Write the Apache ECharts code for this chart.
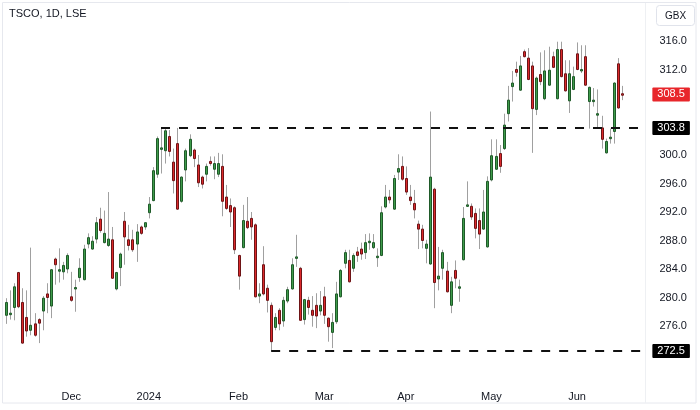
<!DOCTYPE html>
<html><head><meta charset="utf-8">
<script src="https://cdn.jsdelivr.net/npm/echarts@6/dist/echarts.min.js"></script>
<style>html,body{margin:0;padding:0;background:#fff}#c{width:700px;height:410px}</style>
</head><body><div id="c"></div>
<script>
// ---- data (TSCO daily, GBX) ----
const startDate = '2023-11-09';
const holidays = ['2023-12-25','2023-12-26','2024-01-01','2024-03-29','2024-04-01','2024-05-06','2024-05-27'];
const extraSlots = 5; // empty right margin
const open = [277.5,277.6,278.6,283.5,279.3,277.2,275.4,276.3,276.9,278.1,280.5,278.8,285.4,283.7,283.6,284.0,280.1,281.2,282.8,282.5,
287.5,286.8,288.2,291.0,287.7,287.3,288.1,281.2,284.2,290.7,288.1,288.1,287.5,289.9,289.9,291.9,293.6,297.3,300.8,300.6,
302.6,299.0,301.6,293.5,297.9,299.9,300.7,298.6,296.9,297.3,299.1,298.0,297.3,298.4,294.1,292.9,292.6,285.9,287.0,290.7,
291.1,290.2,280.2,284.6,281.3,278.9,275.8,278.2,276.7,279.5,281.2,285.5,284.1,276.9,279.6,278.2,278.9,278.1,280.1,277.1,
275.1,276.6,280.1,284.8,285.2,284.1,286.4,286.8,286.3,287.7,287.0,285.6,285.9,292.7,294.1,292.4,297.6,298.4,296.7,294.1,
293.2,290.3,289.6,286.9,284.7,295.2,282.6,284.1,283.7,278.9,283.8,281.3,285.3,292.8,292.8,291.8,290.8,289.6,287.1,296.5,
298.0,300.2,300.9,305.8,309.6,312.0,309.1,314.5,313.6,312.5,306.4,311.3,307.9,309.8,313.8,307.9,314.8,311.4,307.6,309.2,
314.2,311.8,313.8,307.5,307.5,305.6,303.8,300.3,302.3,303.3,312.8,308.6];
const high = [279.9,281.0,282.0,283.6,281.3,281.0,287.0,277.8,277.1,280.2,282.0,284.0,285.6,286.9,285.0,286.2,283.6,282.5,285.5,287.4,
289.0,288.6,291.3,292.6,292.2,294.8,289.9,283.6,286.3,292.0,290.2,289.5,290.3,290.1,290.5,294.1,298.3,302.6,303.8,303.8,
303.5,300.9,303.8,297.0,300.9,302.9,300.9,300.0,297.1,298.8,299.8,299.8,300.3,300.1,295.8,293.9,292.8,286.0,293.0,294.1,
292.0,290.4,282.0,287.2,281.8,279.3,277.8,278.5,280.1,281.5,285.5,288.8,284.3,279.8,280.1,280.2,280.6,280.9,281.5,277.2,
277.8,282.2,284.0,286.7,286.7,286.2,287.1,287.7,288.9,289.0,288.9,286.9,292.8,295.8,295.1,297.2,300.1,299.8,298.4,295.8,
295.1,290.8,290.2,288.1,306.1,295.4,287.1,286.7,285.0,282.9,285.2,282.5,292.7,296.3,293.2,292.5,292.5,295.1,297.0,302.2,
302.2,301.4,305.8,309.7,311.8,313.1,313.9,314.8,315.0,313.1,311.0,314.4,314.7,315.2,314.5,315.9,315.9,313.3,313.3,312.4,
315.8,315.4,315.4,309.6,309.4,309.2,305.5,302.3,303.7,310.2,313.6,309.7];
const low = [276.3,276.9,276.8,278.5,273.5,274.5,274.7,274.5,273.6,275.4,277.8,277.1,281.8,282.1,282.5,283.4,279.4,278.0,282.2,282.4,
286.9,286.7,287.6,289.1,287.6,287.1,282.6,281.0,281.6,284.6,286.6,286.4,285.0,288.8,289.5,291.1,293.5,296.8,297.4,298.8,
299.8,294.6,292.3,293.3,296.3,299.7,298.3,295.5,295.3,296.3,298.5,296.6,296.9,291.4,292.3,289.9,286.1,281.1,286.9,289.6,
288.1,280.0,279.2,280.3,277.9,272.5,275.4,275.4,275.9,279.2,281.1,284.3,276.7,276.2,277.6,275.9,275.7,277.5,276.3,273.8,
272.9,276.3,280.0,284.1,282.1,283.6,285.0,285.3,285.4,286.7,286.8,284.3,285.8,292.5,293.2,292.3,296.5,296.4,294.4,293.0,
291.1,286.8,286.9,284.8,284.6,278.5,281.0,282.5,280.7,277.8,281.3,279.4,285.2,292.7,290.9,288.3,286.8,289.5,287.0,296.3,
297.9,297.5,300.7,304.7,307.5,311.0,309.0,313.7,310.5,300.3,305.6,309.8,307.7,309.7,312.2,307.8,310.9,308.9,305.9,309.1,
311.9,311.5,309.7,303.7,306.8,303.7,300.9,300.2,301.6,301.6,306.5,307.7];
const close = [279.3,277.8,281.5,278.7,273.6,275.3,276.1,274.7,276.4,279.9,280.0,283.9,284.6,283.9,284.5,285.9,279.6,281.4,284.1,286.8,
288.4,287.9,290.5,289.4,289.0,288.2,282.7,283.5,286.1,288.5,287.3,286.7,289.2,289.0,290.5,293.1,297.8,302.3,301.0,303.4,
300.5,296.4,292.4,296.9,300.6,302.2,299.5,296.1,295.9,298.4,298.8,298.8,298.8,293.5,292.5,292.0,286.7,283.0,290.8,289.8,
289.9,280.1,280.5,280.5,279.6,273.8,277.2,276.3,279.6,281.1,284.6,285.7,276.8,279.7,278.6,277.5,277.4,278.9,277.5,275.9,
276.5,280.5,283.8,286.3,282.2,285.9,285.9,286.1,287.7,287.9,287.7,285.8,291.9,294.1,293.7,296.7,298.1,296.6,294.8,293.6,
292.3,289.6,288.0,287.5,296.9,282.1,283.0,286.3,280.8,282.2,282.7,281.5,291.1,293.0,291.3,289.7,288.9,292.0,296.3,299.9,
299.8,298.4,304.2,307.7,310.1,311.6,312.5,313.8,310.6,306.5,310.8,310.3,311.8,311.9,312.3,314.8,311.0,309.0,311.4,311.0,
312.0,312.0,309.8,309.5,307.7,305.8,302.2,301.9,302.5,310.1,306.6,308.5];
const yTickLabels = [276, 280, 284, 288, 292, 296, 300, 312, 316];
const resistance = 303.8, resistanceStart = 38;
const support = 272.5, supportStart = 65;
const lastPrice = 308.5;
const monthNames = ['Jan','Feb','Mar','Apr','May','Jun','Jul','Aug','Sep','Oct','Nov','Dec'];

// trading-day calendar
function buildDates(start, n, hol) {
  const out = []; const d = new Date(start + 'T12:00:00Z');
  while (out.length < n) {
    const s = d.toISOString().slice(0, 10); const wd = d.getUTCDay();
    if (wd !== 0 && wd !== 6 && hol.indexOf(s) < 0) out.push(s);
    d.setUTCDate(d.getUTCDate() + 1);
  }
  return out;
}
const dates = buildDates(startDate, open.length + extraSlots, holidays);
const candles = open.map((o, i) => [i, o, close[i], low[i], high[i]]);

const GREEN = '#3f9c4b', GREEN_E = '#1f5a29', RED = '#dc2a2c', RED_E = '#6e1416', WICK = '#a0a0a0';
const FONT = 'Liberation Sans, Arial, sans-serif';

const chart = echarts.init(document.getElementById('c'), null, {renderer: 'canvas'});
const lastIdx = dates.length - 1;
function priceLabel(bg, text) {
  return {show: true, position: 'end', distance: 10, formatter: text, color: '#fff', backgroundColor: bg,
    fontSize: 11, fontFamily: FONT, padding: [2, 5, 1, 5], borderRadius: 1, opacity: 1};
}
chart.setOption({
  animation: false,
  backgroundColor: '#ffffff',
  grid: {left: 3.96, right: 55.6, top: 0, bottom: 27},
  xAxis: {
    type: 'category', data: dates, boundaryGap: true,
    axisLine: {show: false}, axisTick: {show: false}, splitLine: {show: false},
    axisLabel: {
      color: '#131722', fontSize: 11, fontFamily: FONT, margin: 8,
      interval: (idx, val) => idx > 0 && val.slice(0, 7) !== dates[idx - 1].slice(0, 7),
      formatter: (val) => { const m = +val.slice(5, 7); return m === 1 ? val.slice(0, 4) : monthNames[m - 1]; }
    }
  },
  yAxis: {
    type: 'value', position: 'right', min: 268, max: 321.754, scale: true,
    axisLine: {show: false}, axisTick: {show: false}, splitLine: {show: false},
    axisLabel: {customValues: yTickLabels, formatter: v => v.toFixed(1), color: '#131722',
      fontSize: 11, fontFamily: FONT, margin: 15}
  },
  series: [{
    type: 'custom',
    data: candles,
    encode: {x: 0, y: [1, 2, 3, 4]},
    renderItem: function (params, api) {
      const i = api.value(0), o = api.value(1), c = api.value(2), l = api.value(3), h = api.value(4);
      const pO = api.coord([i, o]), pC = api.coord([i, c]), pL = api.coord([i, l]), pH = api.coord([i, h]);
      const X = Math.round(pO[0]);
      const up = c >= o;
      const top = Math.min(pO[1], pC[1]), bot = Math.max(pO[1], pC[1]);
      const bh = Math.max(bot - top, 1.5);
      return {type: 'group', children: [
        {type: 'line', shape: {x1: X + 0.5, y1: pH[1], x2: X + 0.5, y2: pL[1]}, style: {stroke: WICK, lineWidth: 1}},
        {type: 'rect', shape: {x: X - 0.5, y: top, width: 2, height: bh},
          style: {fill: up ? GREEN : RED, stroke: up ? GREEN_E : RED_E, lineWidth: 1}}
      ]};
    },
    markLine: {
      silent: true, symbol: 'none', animation: false,
      lineStyle: {color: '#111', width: 2, type: [9, 9]},
      data: [
        [{xAxis: resistanceStart, yAxis: resistance}, {xAxis: lastIdx, yAxis: resistance, label: priceLabel('#000', resistance.toFixed(1))}],
        [{xAxis: supportStart, yAxis: support}, {xAxis: lastIdx, yAxis: support, label: priceLabel('#000', support.toFixed(1))}],
        [{xAxis: open.length - 1, yAxis: lastPrice, lineStyle: {color: 'rgba(0,0,0,0)', width: 1, type: 'solid'}},
         {xAxis: lastIdx, yAxis: lastPrice, label: priceLabel('#e8262b', lastPrice.toFixed(1))}]
      ]
    }
  }],
  graphic: [
    {type: 'rect', shape: {x: 2.5, y: 2.5, width: 693.5, height: 400.5}, style: {fill: 'none', stroke: '#e6e8ee', lineWidth: 1}, silent: true, z: -1},
    {type: 'line', shape: {x1: 645.5, y1: 3, x2: 645.5, y2: 403}, style: {stroke: '#eef0f3', lineWidth: 1}, silent: true},
    {type: 'text', left: 9, top: 8, style: {text: 'TSCO, 1D, LSE', fill: '#131722', font: '11px ' + FONT}},
    {type: 'rect', shape: {x: 656.5, y: 5.5, width: 38, height: 20, r: 3}, style: {fill: '#fff', stroke: '#e0e3eb', lineWidth: 1}},
    {type: 'text', x: 675.5, y: 16, style: {text: 'GBX', fill: '#131722', font: '10px ' + FONT, align: 'center', verticalAlign: 'middle'}}
  ]
});
</script></body></html>
